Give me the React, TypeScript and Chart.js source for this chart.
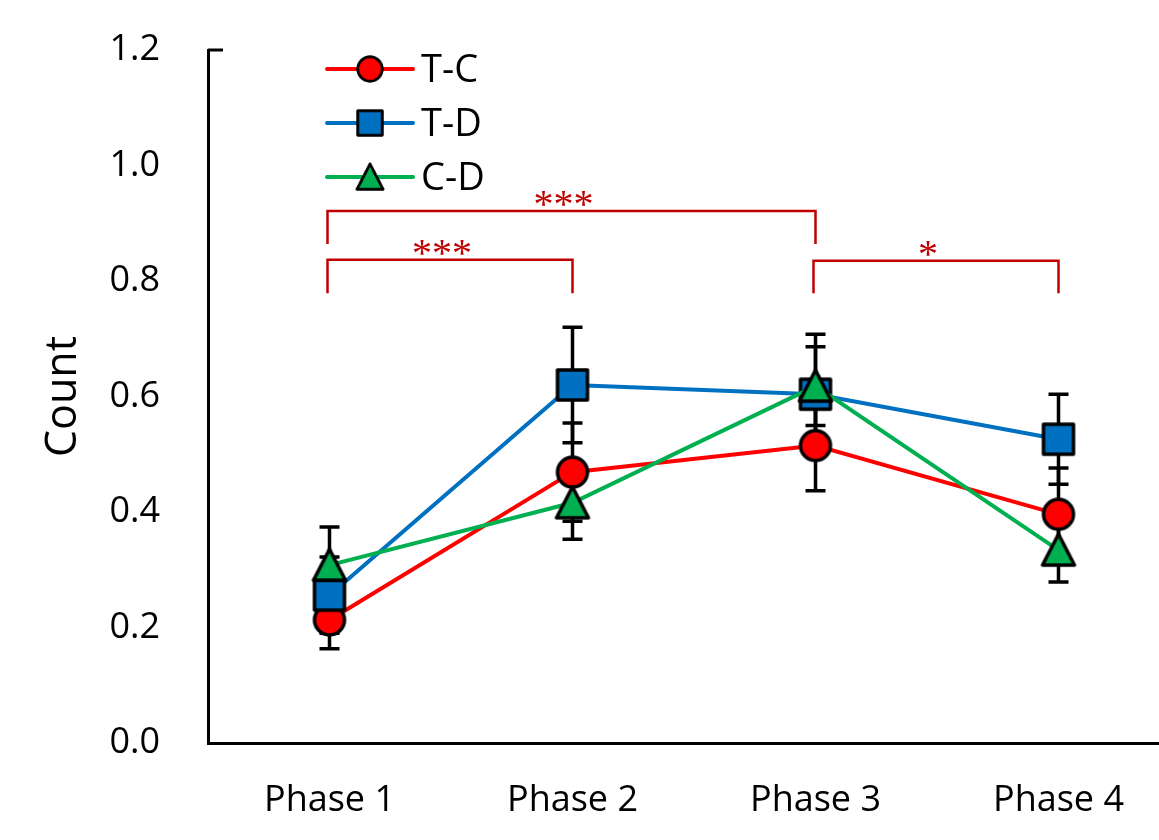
import React, { useEffect, useRef } from 'react';
import { Chart, registerables } from 'chart.js';

Chart.register(...registerables);

// ---------- data ----------
const categories = ['Phase 1', 'Phase 2', 'Phase 3', 'Phase 4'];
const seriesNames = ['T-C', 'T-D', 'C-D'];

const tcValues = [0.213, 0.469, 0.515, 0.396];
const tcErrors = [0.05, 0.085, 0.078, 0.08];

const tdValues = [0.256, 0.62, 0.604, 0.526];
const tdErrors = [0.066, 0.1, 0.104, 0.078];

const cdValues = [0.308, 0.416, 0.618, 0.334];
const cdErrors = [0.066, 0.063, 0.068, 0.055];

const yTickLabels = ['0.0', '0.2', '0.4', '0.6', '0.8', '1.0', '1.2'];

// significance brackets: category indices, bracket level, drop length, label
const bracketFrom = [0, 0, 2];
const bracketTo = [2, 1, 3];
const bracketLevel = [0.921, 0.837, 0.835];
const bracketDrop = [0.057, 0.058, 0.056];
const bracketLabels = ['***', '***', '*'];

// ---------- styles ----------
const RED = '#FF0000';
const BLUE = '#0070C0';
const GREEN = '#00B050';
const SIG = '#C00000';
const FONT = "'Open Sans', 'Noto Sans', sans-serif";

function makeMarker(kind: string, fill: string): HTMLCanvasElement {
  const c = document.createElement('canvas');
  c.width = 38;
  c.height = 38;
  const g = c.getContext('2d')!;
  g.fillStyle = fill;
  g.strokeStyle = '#000';
  g.lineWidth = 3.5;
  g.lineJoin = 'round';
  g.beginPath();
  if (kind === 'circle') {
    g.arc(19, 19, 15, 0, Math.PI * 2);
  } else if (kind === 'square') {
    g.rect(4, 4, 30, 30);
  } else {
    g.moveTo(19, 3);
    g.lineTo(35, 34);
    g.lineTo(3, 34);
    g.closePath();
  }
  g.fill();
  g.stroke();
  return c;
}

export default function App() {
  const ref = useRef<HTMLCanvasElement>(null);

  useEffect(() => {
    const canvas = ref.current!;
    const mCircle = makeMarker('circle', RED);
    const mSquare = makeMarker('square', BLUE);
    const mTri = makeMarker('triangle', GREEN);
    const markers = [mCircle, mSquare, mTri];
    const colors = [RED, BLUE, GREEN];
    const errors = [tcErrors, tdErrors, cdErrors];

    const errorBarPlugin = {
      id: 'errorBars',
      beforeDatasetsDraw(chart: any) {
        const ctx = chart.ctx;
        const xs = chart.scales.x;
        const ys = chart.scales.y;
        ctx.save();
        ctx.strokeStyle = '#000';
        ctx.lineWidth = 3.5;
        chart.data.datasets.forEach((ds: any, di: number) => {
          ds.data.forEach((v: number, i: number) => {
            const e = errors[di][i];
            const x = xs.getPixelForValue(i);
            const yTop = ys.getPixelForValue(v + e);
            const yBot = ys.getPixelForValue(v - e);
            ctx.beginPath();
            ctx.moveTo(x, yTop);
            ctx.lineTo(x, yBot);
            ctx.moveTo(x - 10, yTop);
            ctx.lineTo(x + 10, yTop);
            ctx.moveTo(x - 10, yBot);
            ctx.lineTo(x + 10, yBot);
            ctx.stroke();
          });
        });
        ctx.restore();
      },
    };

    const bracketPlugin = {
      id: 'brackets',
      afterDatasetsDraw(chart: any) {
        const ctx = chart.ctx;
        const xs = chart.scales.x;
        const ys = chart.scales.y;
        ctx.save();
        ctx.strokeStyle = SIG;
        ctx.fillStyle = SIG;
        ctx.lineWidth = 2.5;
        ctx.font = "40px 'Liberation Serif', 'DejaVu Serif', serif";
        ctx.textAlign = 'center';
        ctx.textBaseline = 'alphabetic';
        for (let k = 0; k < bracketLabels.length; k++) {
          const x1 = xs.getPixelForValue(bracketFrom[k]) - 2;
          const x2 = xs.getPixelForValue(bracketTo[k]);
          const y = ys.getPixelForValue(bracketLevel[k]);
          const yd = ys.getPixelForValue(bracketLevel[k] - bracketDrop[k]);
          ctx.beginPath();
          ctx.moveTo(x1, yd);
          ctx.lineTo(x1, y);
          ctx.lineTo(x2, y);
          ctx.lineTo(x2, yd);
          ctx.stroke();
          ctx.fillText(bracketLabels[k], (x1 + x2) / 2 - 8, y + 6);
        }
        ctx.restore();
      },
    };

    const legendPlugin = {
      id: 'customLegend',
      afterDraw(chart: any) {
        const ctx = chart.ctx;
        ctx.save();
        const x0 = 327;
        const x1 = 413;
        const xm = 370;
        const rows = [69, 123, 177];
        ctx.font = `38px ${FONT}`;
        ctx.textBaseline = 'middle';
        ctx.textAlign = 'left';
        for (let i = 0; i < seriesNames.length; i++) {
          const y = rows[i];
          ctx.strokeStyle = colors[i];
          ctx.lineWidth = 4;
          ctx.lineCap = 'round';
          ctx.beginPath();
          ctx.moveTo(x0, y);
          ctx.lineTo(x1, y);
          ctx.stroke();
          const m = markers[i];
          const s = 31;
          ctx.drawImage(m, xm - s / 2, y - s / 2, s, s);
          ctx.fillStyle = '#000';
          ctx.fillText(seriesNames[i], 421, y + 2);
        }
        // top tick on y axis
        const ys = chart.scales.y;
        const yt = ys.getPixelForValue(1.2);
        ctx.strokeStyle = '#000';
        ctx.lineWidth = 3;
        ctx.lineCap = 'butt';
        ctx.beginPath();
        ctx.moveTo(chart.chartArea.left, yt);
        ctx.lineTo(chart.chartArea.left + 15, yt);
        ctx.stroke();
        ctx.restore();
      },
    };

    const chart = new Chart(canvas, {
      type: 'line',
      data: {
        labels: categories,
        datasets: [
          {
            label: seriesNames[0],
            data: tcValues,
            borderColor: RED,
            borderWidth: 4,
            pointStyle: mCircle as any,
            pointRadius: 16,
            order: 2,
          },
          {
            label: seriesNames[1],
            data: tdValues,
            borderColor: BLUE,
            borderWidth: 4,
            pointStyle: mSquare as any,
            pointRadius: 16,
            order: 1,
          },
          {
            label: seriesNames[2],
            data: cdValues,
            borderColor: GREEN,
            borderWidth: 4,
            pointStyle: mTri as any,
            pointRadius: 16,
            order: 0,
          },
        ],
      },
      options: {
        animation: false,
        responsive: false,
        devicePixelRatio: 1,
        layout: { padding: { top: 50, right: 18, left: 0, bottom: 0 } },
        plugins: {
          legend: { display: false },
          tooltip: { enabled: false },
          title: { display: false },
        },
        scales: {
          x: {
            type: 'category',
            offset: true,
            grid: { display: false, drawTicks: false },
            border: { display: true, color: '#000', width: 3 },
            ticks: {
              color: '#000',
              font: { family: FONT, size: 36 },
              padding: 36,
              maxRotation: 0,
            },
            afterFit(s: any) {
              s.height = 97;
              s.paddingLeft = 0;
              s.paddingRight = 0;
            },
          },
          y: {
            min: 0,
            max: 1.2,
            grid: { display: false, drawTicks: false },
            border: { display: true, color: '#000', width: 3 },
            ticks: {
              stepSize: 0.2,
              color: '#000',
              font: { family: FONT, size: 36 },
              padding: 48,
              callback: (_v: any, i: number) => yTickLabels[i],
            },
            title: {
              display: true,
              text: 'Count',
              color: '#000',
              font: { family: FONT, size: 43, lineHeight: 1 },
              padding: { top: 42, bottom: 0 },
            },
            afterFit(s: any) {
              s.width = 208;
              s.paddingTop = 20;
              s.paddingBottom = 20;
            },
          },
        },
      },
      plugins: [errorBarPlugin, bracketPlugin, legendPlugin],
    });

    return () => chart.destroy();
  }, []);

  return (
    <div
      style={{
        position: 'absolute',
        left: 0,
        top: 0,
        width: 1159,
        height: 840,
        overflow: 'hidden',
        background: '#fff',
      }}
    >
      <canvas ref={ref} width={1200} height={840} style={{ display: 'block' }} />
    </div>
  );
}
